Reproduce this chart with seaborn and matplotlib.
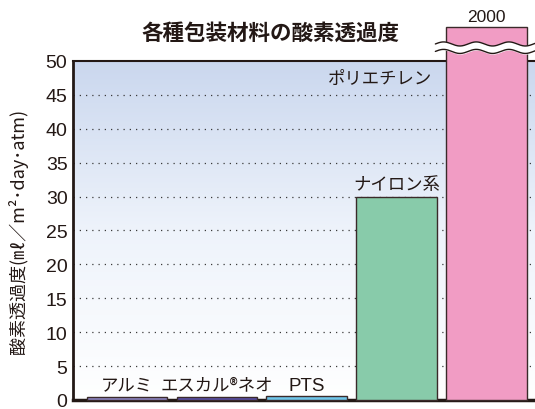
import numpy as np
import matplotlib
matplotlib.use('agg')
import matplotlib.pyplot as plt
import seaborn as sns

# data
materials = ['アルミ', 'エスカル®ネオ', 'PTS', 'ナイロン系', 'ポリエチレン']
values = [0.5, 0.5, 0.6, 30, 2000]
colors = ['#8f87c6', '#5b50aa', '#6fc6ea', '#88cbaa', '#f19cc4']
y_ticks = [0, 5, 10, 15, 20, 25, 30, 35, 40, 45, 50]
y_max = 50
cap = 55  # how far the broken bar pokes above the axes

sns.set_theme(style='white')
jp = ['Noto Sans CJK JP', 'DejaVu Sans']
num = ['Liberation Sans', 'DejaVu Sans']
plt.rcParams['font.family'] = jp

fig = plt.figure(figsize=(5.35, 4.1), dpi=100)
ax = fig.add_axes([0.1365, 0.022, 0.87, 0.827])

# gradient background
grad = np.linspace(0, 1, 256).reshape(-1, 1)
cmap = matplotlib.colors.LinearSegmentedColormap.from_list('bg', ['#ffffff', '#eef3fb', '#cad7ee'])
ax.imshow(grad, aspect='auto', cmap=cmap, origin='lower', extent=[0, 1, 0, 1],
          transform=ax.transAxes, zorder=0)

shown = [min(v, cap) for v in values]
sns.barplot(x=materials, y=shown, hue=materials, palette=colors, legend=False,
            width=0.895, edgecolor='#3a2a2a', linewidth=1.0, saturation=1, ax=ax, zorder=3)
for p in ax.patches:
    p.set_clip_on(False)

ax.set_xlim(-0.6, 4.58)
ax.set_ylim(0, y_max)
ax.set_yticks(y_ticks)
ax.set_yticklabels([str(t) for t in y_ticks], fontsize=14, family=num, color='#231815')
ax.set_xticks([])
ax.set_xlabel('')
ax.tick_params(axis='y', length=0, pad=4)

for t in y_ticks[1:-1]:
    ax.axhline(t, color='#3a3a3a', linestyle=(0, (1, 4)), linewidth=0.9, zorder=1)

ax.spines['right'].set_visible(False)
for side in ['left', 'bottom', 'top']:
    ax.spines[side].set_color('#231815')
ax.spines['left'].set_linewidth(2)
ax.spines['bottom'].set_linewidth(2.5)
ax.spines['top'].set_linewidth(1.5)
ax.spines['top'].set_zorder(2)

# labels above the bars
for i, (name, v) in enumerate(zip(materials, values)):
    if v >= y_max:
        continue
    if name.isascii():
        ax.text(i, v + 0.35, name, ha='center', va='bottom', fontsize=13.5, family=num,
                color='#231815', zorder=5)
    else:
        ax.text(i, v + 0.5, name, ha='center', va='bottom', fontsize=12.5,
                color='#231815', zorder=5)
ax.text(3.4, 47.5, materials[4], ha='right', va='center', fontsize=12.5, color='#231815', zorder=5)

# wavy break across the tall bar
last = ax.patches[4]
x0 = last.get_x() - 0.12
x1 = last.get_x() + last.get_width() + 0.15
xs = np.linspace(x0, x1, 200)
wave = 0.3 * np.sin((xs - x0) / (x1 - x0) * 2 * np.pi * 3.2)
lo = 51.4 + wave
hi = 52.5 + wave
ax.fill_between(xs, lo, hi, color='white', zorder=6, clip_on=False)
ax.plot(xs, lo, color='#231815', lw=1, zorder=7, clip_on=False)
ax.plot(xs, hi, color='#231815', lw=1, zorder=7, clip_on=False)
ax.text(4, cap + 0.4, f'{values[4]}', ha='center', va='bottom', fontsize=12.5,
        family=num, color='#231815')

ax.set_ylabel('')
fig.text(0.034, 0.435, '酸素透過度(㎖／m²･day･atm)', rotation=90, ha='center', va='center',
         fontsize=13, color='#231815')
fig.text(0.505, 0.918, '各種包装材料の酸素透過度', ha='center', va='center', fontsize=15.5,
         fontweight='bold', color='#231815')

fig.savefig('out.png', dpi=100)
